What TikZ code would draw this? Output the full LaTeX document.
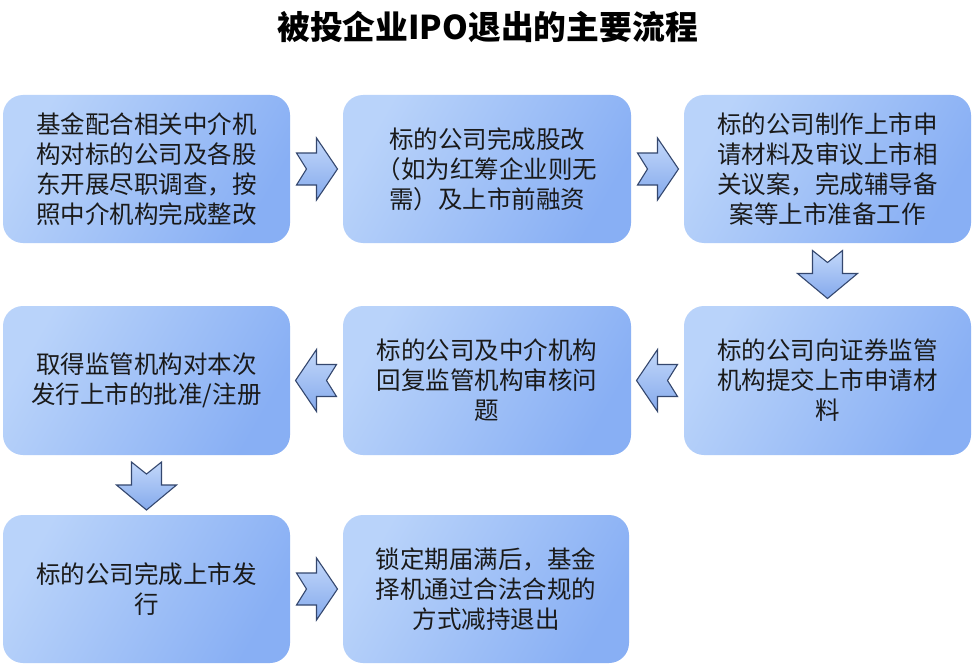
\documentclass[tikz,border=0pt]{standalone}
\usepackage{fontspec}
\setmainfont{Noto Sans CJK SC}
\usetikzlibrary{calc}
\definecolor{boxA}{HTML}{B9D3FA}
\definecolor{boxB}{HTML}{88AFF4}
\definecolor{arrA}{HTML}{C3D8FA}
\definecolor{arrB}{HTML}{84A9EC}
\definecolor{arrLine}{HTML}{34476E}
\definecolor{txt}{HTML}{1A1A1A}
\tikzset{
  stepbox/.style={rounded corners=20pt, left color=boxA, right color=boxB, shading angle=60,
    minimum width=287pt, minimum height=148pt, inner sep=0pt, text=txt,
    align=center, font=\fontsize{24.5pt}{30pt}\selectfont},
  arrowshape/.style={top color=arrA, bottom color=arrB, draw=arrLine, line width=1.1pt, line join=miter},
  arrowR/.pic={\shade[arrowshape] (-20,16) -- (0,16) -- (0,31) -- (21,0) -- (0,-31) -- (0,-16) -- (-20,-16) -- (-10,0) -- cycle;},
  arrowL/.pic={\shade[arrowshape] (20,16) -- (0,16) -- (0,31) -- (-21,0) -- (0,-31) -- (0,-16) -- (20,-16) -- (10,0) -- cycle;},
  arrowD/.pic={\shade[arrowshape] (-15,24) -- (0,12) -- (15,24) -- (15,1) -- (30,1) -- (0,-24) -- (-30,1) -- (-15,1) -- cycle;}
}
\begin{document}
\begin{tikzpicture}[x=1pt,y=1pt]
\useasboundingbox (0,0) rectangle (973,-666);
\fill[white] (0,0) rectangle (973,-666);
\node[font=\fontsize{32.8pt}{36pt}\selectfont\bfseries, text=black] (title) at (487.5,-27) {被投企业IPO退出的主要流程};

\node[stepbox] (b1) at (146.5,-169) {基金配合相关中介机\\构对标的公司及各股\\东开展尽职调查，按\\照中介机构完成整改};
\node[stepbox, minimum width=288pt] (b2) at (487,-169) {标的公司完成股改\\（如为红筹企业则无\\需）及上市前融资};
\node[stepbox] (b3) at (827.5,-169) {标的公司制作上市申\\请材料及审议上市相\\关议案，完成辅导备\\案等上市准备工作};
\node[stepbox, minimum height=149pt] (b4) at (827.5,-380.5) {标的公司向证券监管\\机构提交上市申请材\\料};
\node[stepbox, minimum width=288pt, minimum height=149pt] (b5) at (487,-380.5) {标的公司及中介机构\\回复监管机构审核问\\题};
\node[stepbox, minimum height=149pt] (b6) at (146.5,-380.5) {取得监管机构对本次\\发行上市的批准/注册};
\node[stepbox] (b7) at (146.5,-589) {标的公司完成上市发\\行};
\node[stepbox, minimum width=286pt] (b8) at (486,-589) {锁定期届满后，基金\\择机通过合法合规的\\方式减持退出};

\pic at ($(b1.east)!0.5!(b2.west)$) {arrowR};
\pic at ($(b2.east)!0.5!(b3.west)$) {arrowR};
\pic at ($(b3.south)!0.5!(b4.north)$) {arrowD};
\pic at ($(b4.west)!0.5!(b5.east)$) {arrowL};
\pic at ($(b5.west)!0.5!(b6.east)$) {arrowL};
\pic at ($(b6.south)!0.5!(b7.north)+(0,-1)$) {arrowD};
\pic at ($(b7.east)!0.5!(b8.west)$) {arrowR};
\end{tikzpicture}
\end{document}
